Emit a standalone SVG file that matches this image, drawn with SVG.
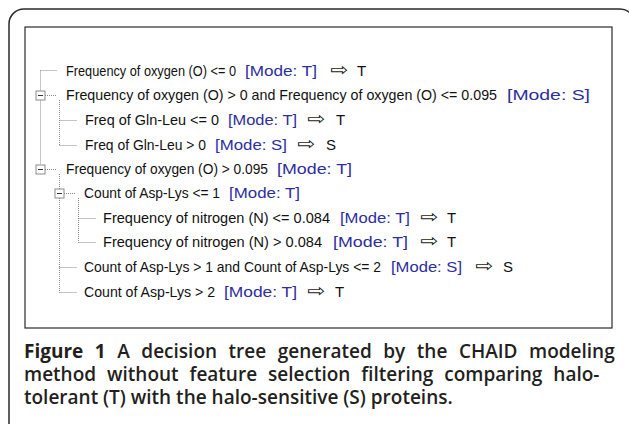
<svg xmlns="http://www.w3.org/2000/svg" width="629" height="424" viewBox="0 0 629 424">
<style>
.t{font-family:"Liberation Sans",Arial,sans-serif;font-size:15px;fill:#111}
.m{font-family:"Liberation Sans",Arial,sans-serif;font-size:15px;fill:#2e2e9e}
.a{font-family:"DejaVu Sans",sans-serif;font-size:18px;fill:#222}
.dot{stroke:#8a8a8a;stroke-width:1;stroke-dasharray:1 1;fill:none}
.box{fill:#fff;stroke:#8a8a8a;stroke-width:1}
.minus{stroke:#333;stroke-width:1}
.cap{font-family:"Open Sans","Liberation Sans",sans-serif;font-size:19px;font-weight:600;fill:#231f20}
.capb{font-weight:700}
</style>
<rect x="9" y="9" width="626" height="430" rx="15" fill="#fff" stroke="#2b2b2b" stroke-width="1.5"/>
<rect x="25" y="27" width="587" height="301" fill="#fff" stroke="#2b2b2b" stroke-width="1.2"/>
<g id="connectors">
<path class="dot" d="M40.5 70.5 H57 M40.5 70.5 V164 M45 95.5 H57 M45 169.5 H57"/>
<path class="dot" d="M59.5 100 V145.5 M59.5 120.5 H77 M59.5 145.5 H77"/>
<path class="dot" d="M59.5 174 V292.5 M64 193.5 H76 M59.5 267.5 H77 M59.5 292.5 H77"/>
<path class="dot" d="M78.5 198 V242.5 M78.5 218.5 H96 M78.5 242.5 H96"/>
</g>
<g id="n1">
<text class="t" x="66" y="76" textLength="170" lengthAdjust="spacingAndGlyphs">Frequency of oxygen (O) &lt;= 0</text>
<text class="m" x="245" y="76" textLength="72" lengthAdjust="spacingAndGlyphs">[Mode: T]</text>
<text class="a" x="330" y="76" textLength="18" lengthAdjust="spacingAndGlyphs">⇨</text>
<text class="t" x="357" y="76">T</text>
</g>
<g id="n2">
<rect class="box" x="36" y="91" width="9" height="9"/><path class="minus" d="M38 95.5 H43"/>
<text class="t" x="66" y="100" textLength="431" lengthAdjust="spacingAndGlyphs">Frequency of oxygen (O) &gt; 0 and Frequency of oxygen (O) &lt;= 0.095</text>
<text class="m" x="507" y="100" textLength="83" lengthAdjust="spacingAndGlyphs">[Mode: S]</text>
</g>
<g id="n3">
<text class="t" x="85" y="125" textLength="134" lengthAdjust="spacingAndGlyphs">Freq of Gln-Leu &lt;= 0</text>
<text class="m" x="228" y="125" textLength="69" lengthAdjust="spacingAndGlyphs">[Mode: T]</text>
<text class="a" x="307" y="125" textLength="18" lengthAdjust="spacingAndGlyphs">⇨</text>
<text class="t" x="336" y="125">T</text>
</g>
<g id="n4">
<text class="t" x="85" y="150" textLength="121" lengthAdjust="spacingAndGlyphs">Freq of Gln-Leu &gt; 0</text>
<text class="m" x="215" y="150" textLength="72" lengthAdjust="spacingAndGlyphs">[Mode: S]</text>
<text class="a" x="297" y="150" textLength="18" lengthAdjust="spacingAndGlyphs">⇨</text>
<text class="t" x="326" y="150">S</text>
</g>
<g id="n5">
<rect class="box" x="36" y="165" width="9" height="9"/><path class="minus" d="M38 169.5 H43"/>
<text class="t" x="66" y="174" textLength="202" lengthAdjust="spacingAndGlyphs">Frequency of oxygen (O) &gt; 0.095</text>
<text class="m" x="277" y="174" textLength="75" lengthAdjust="spacingAndGlyphs">[Mode: T]</text>
</g>
<g id="n6">
<rect class="box" x="55" y="189" width="9" height="9"/><path class="minus" d="M57 193.5 H62"/>
<text class="t" x="84" y="198" textLength="136" lengthAdjust="spacingAndGlyphs">Count of Asp-Lys &lt;= 1</text>
<text class="m" x="229" y="198" textLength="71" lengthAdjust="spacingAndGlyphs">[Mode: T]</text>
</g>
<g id="n7">
<text class="t" x="103" y="223" textLength="227" lengthAdjust="spacingAndGlyphs">Frequency of nitrogen (N) &lt;= 0.084</text>
<text class="m" x="340" y="223" textLength="70" lengthAdjust="spacingAndGlyphs">[Mode: T]</text>
<text class="a" x="420" y="223" textLength="18" lengthAdjust="spacingAndGlyphs">⇨</text>
<text class="t" x="447" y="223">T</text>
</g>
<g id="n8">
<text class="t" x="103" y="247" textLength="219" lengthAdjust="spacingAndGlyphs">Frequency of nitrogen (N) &gt; 0.084</text>
<text class="m" x="333" y="247" textLength="75" lengthAdjust="spacingAndGlyphs">[Mode: T]</text>
<text class="a" x="420" y="247" textLength="18" lengthAdjust="spacingAndGlyphs">⇨</text>
<text class="t" x="447" y="247">T</text>
</g>
<g id="n9">
<text class="t" x="84" y="272" textLength="297" lengthAdjust="spacingAndGlyphs">Count of Asp-Lys &gt; 1 and Count of Asp-Lys &lt;= 2</text>
<text class="m" x="391" y="272" textLength="71" lengthAdjust="spacingAndGlyphs">[Mode: S]</text>
<text class="a" x="475" y="272" textLength="18" lengthAdjust="spacingAndGlyphs">⇨</text>
<text class="t" x="503" y="272">S</text>
</g>
<g id="n10">
<text class="t" x="84" y="297" textLength="131" lengthAdjust="spacingAndGlyphs">Count of Asp-Lys &gt; 2</text>
<text class="m" x="224" y="297" textLength="73" lengthAdjust="spacingAndGlyphs">[Mode: T]</text>
<text class="a" x="307" y="297" textLength="18" lengthAdjust="spacingAndGlyphs">⇨</text>
<text class="t" x="335" y="297">T</text>
</g>
<g id="caption">
<text class="cap" x="24" y="358" word-spacing="6.6"><tspan class="capb">Figure 1</tspan> A decision tree generated by the CHAID modeling</text>
<text class="cap" x="24" y="381" word-spacing="6">method without feature selection filtering comparing halo-</text>
<text class="cap" x="24" y="404">tolerant (T) with the halo-sensitive (S) proteins.</text>
</g>
</svg>
